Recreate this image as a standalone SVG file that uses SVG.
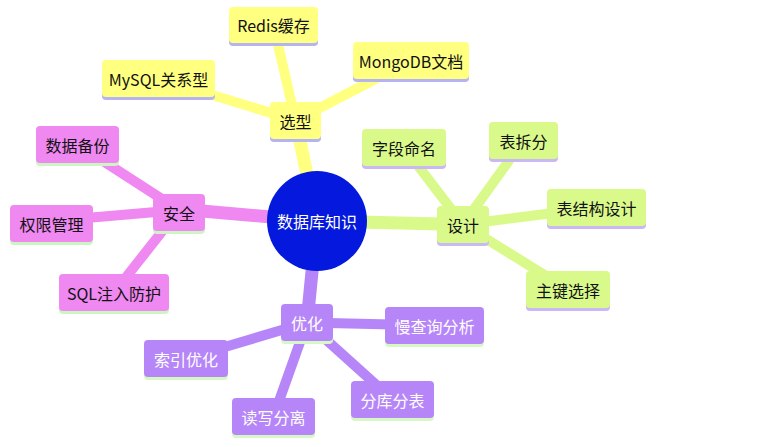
<svg xmlns="http://www.w3.org/2000/svg" width="773" height="447" viewBox="0 0 773 447">
<style>
text{font-family:"Noto Sans CJK SC","Noto Sans",sans-serif;font-size:16px;text-anchor:middle;dominant-baseline:central}
.dk{fill:#111}
.wt{fill:#fff}
.y{fill:#ffff80}.yu{fill:#b4b4f2}
.p{fill:#ef88f1}.pu{fill:#cdf5c4}
.g{fill:#d9fa8a}.gu{fill:#c9b8f4}
.v{fill:#b686f8}.vu{fill:#d6f8c4}
.ly{stroke:#ffff80}.lp{stroke:#ef88f1}.lg{stroke:#d9fa8a}.lv{stroke:#b686f8}
.main{stroke-width:13;fill:none}
.leaf{stroke-width:10;fill:none}
</style>
<rect width="773" height="447" fill="#fff"/>
<g id="connectors">
<line class="main ly" x1="317" y1="221" x2="295.5" y2="120.5"/>
<line class="leaf ly" x1="295.5" y1="120.5" x2="273.5" y2="25"/>
<line class="leaf ly" x1="295.5" y1="120.5" x2="411" y2="60.5"/>
<line class="leaf ly" x1="295.5" y1="120.5" x2="158.5" y2="78.5"/>
<line class="main lp" x1="317" y1="221" x2="179" y2="209"/>
<line class="leaf lp" x1="179" y1="210" x2="77.5" y2="144.5"/>
<line class="leaf lp" x1="179" y1="210" x2="51.5" y2="221"/>
<line class="leaf lp" x1="179" y1="210" x2="114" y2="292.5"/>
<line class="main lg" x1="317" y1="221" x2="463" y2="224.5"/>
<line class="leaf lg" x1="463" y1="224.5" x2="404" y2="147.5"/>
<line class="leaf lg" x1="463" y1="224.5" x2="523.5" y2="140.5"/>
<line class="leaf lg" x1="463" y1="224.5" x2="596.5" y2="207.5"/>
<line class="leaf lg" x1="463" y1="224.5" x2="568" y2="289.5"/>
<line class="main lv" x1="317" y1="221" x2="307" y2="322.5"/>
<line class="leaf lv" x1="307" y1="322.5" x2="434.5" y2="325.5"/>
<line class="leaf lv" x1="307" y1="322.5" x2="186" y2="358.5"/>
<line class="leaf lv" x1="307" y1="322.5" x2="273.5" y2="416.5"/>
<line class="leaf lv" x1="307" y1="322.5" x2="392.5" y2="399.5"/>
</g>
<g id="root">
<circle cx="317" cy="221" r="50" fill="#0419dd"/>
<text class="wt" x="317" y="221">数据库知识</text>
</g>
<g id="n-xuanxing"><rect class="yu" x="270" y="105" width="51" height="37" rx="4"/><rect class="y" x="270" y="102" width="51" height="37" rx="4"/><text class="dk" x="295.5" y="120.5">选型</text></g>
<g id="n-redis"><rect class="yu" x="229" y="10" width="89" height="36" rx="4"/><rect class="y" x="229" y="7" width="89" height="36" rx="4"/><text class="dk" x="273.5" y="25">Redis缓存</text></g>
<g id="n-mongo"><rect class="yu" x="353" y="45" width="116" height="37" rx="4"/><rect class="y" x="353" y="42" width="116" height="37" rx="4"/><text class="dk" x="411" y="60.5">MongoDB文档</text></g>
<g id="n-mysql"><rect class="yu" x="102" y="63" width="113" height="37" rx="4"/><rect class="y" x="102" y="60" width="113" height="37" rx="4"/><text class="dk" x="158.5" y="78.5">MySQL关系型</text></g>
<g id="n-anquan"><rect class="pu" x="153" y="197" width="52" height="37" rx="4"/><rect class="p" x="153" y="194" width="52" height="37" rx="4"/><text class="dk" x="179" y="212.5">安全</text></g>
<g id="n-beifen"><rect class="pu" x="36" y="129" width="83" height="37" rx="4"/><rect class="p" x="36" y="126" width="83" height="37" rx="4"/><text class="dk" x="77.5" y="144.5">数据备份</text></g>
<g id="n-quanxian"><rect class="pu" x="10" y="208" width="83" height="37" rx="4"/><rect class="p" x="10" y="205" width="83" height="37" rx="4"/><text class="dk" x="51.5" y="223.5">权限管理</text></g>
<g id="n-sqlzhuru"><rect class="pu" x="59" y="277" width="110" height="37" rx="4"/><rect class="p" x="59" y="274" width="110" height="37" rx="4"/><text class="dk" x="114" y="292.5">SQL注入防护</text></g>
<g id="n-sheji"><rect class="gu" x="437" y="209" width="52" height="37" rx="4"/><rect class="g" x="437" y="206" width="52" height="37" rx="4"/><text class="dk" x="463" y="224.5">设计</text></g>
<g id="n-ziduan"><rect class="gu" x="362" y="132" width="84" height="37" rx="4"/><rect class="g" x="362" y="129" width="84" height="37" rx="4"/><text class="dk" x="404" y="147.5">字段命名</text></g>
<g id="n-chaifen"><rect class="gu" x="489" y="125" width="69" height="37" rx="4"/><rect class="g" x="489" y="122" width="69" height="37" rx="4"/><text class="dk" x="523.5" y="140.5">表拆分</text></g>
<g id="n-jiegou"><rect class="gu" x="547" y="192" width="99" height="37" rx="4"/><rect class="g" x="547" y="189" width="99" height="37" rx="4"/><text class="dk" x="596.5" y="207.5">表结构设计</text></g>
<g id="n-zhujian"><rect class="gu" x="526" y="274" width="84" height="37" rx="4"/><rect class="g" x="526" y="271" width="84" height="37" rx="4"/><text class="dk" x="568" y="289.5">主键选择</text></g>
<g id="n-youhua"><rect class="vu" x="281" y="307" width="52" height="37" rx="4"/><rect class="v" x="281" y="304" width="52" height="37" rx="4"/><text class="wt" x="307" y="322.5">优化</text></g>
<g id="n-manchaxun"><rect class="vu" x="385" y="310" width="99" height="37" rx="4"/><rect class="v" x="385" y="307" width="99" height="37" rx="4"/><text class="wt" x="434.5" y="325.5">慢查询分析</text></g>
<g id="n-suoyin"><rect class="vu" x="144" y="343" width="84" height="37" rx="4"/><rect class="v" x="144" y="340" width="84" height="37" rx="4"/><text class="wt" x="186" y="358.5">索引优化</text></g>
<g id="n-duxie"><rect class="vu" x="232" y="401" width="83" height="37" rx="4"/><rect class="v" x="232" y="398" width="83" height="37" rx="4"/><text class="wt" x="273.5" y="416.5">读写分离</text></g>
<g id="n-fenku"><rect class="vu" x="351" y="384" width="83" height="37" rx="4"/><rect class="v" x="351" y="381" width="83" height="37" rx="4"/><text class="wt" x="392.5" y="399.5">分库分表</text></g>
</svg>
